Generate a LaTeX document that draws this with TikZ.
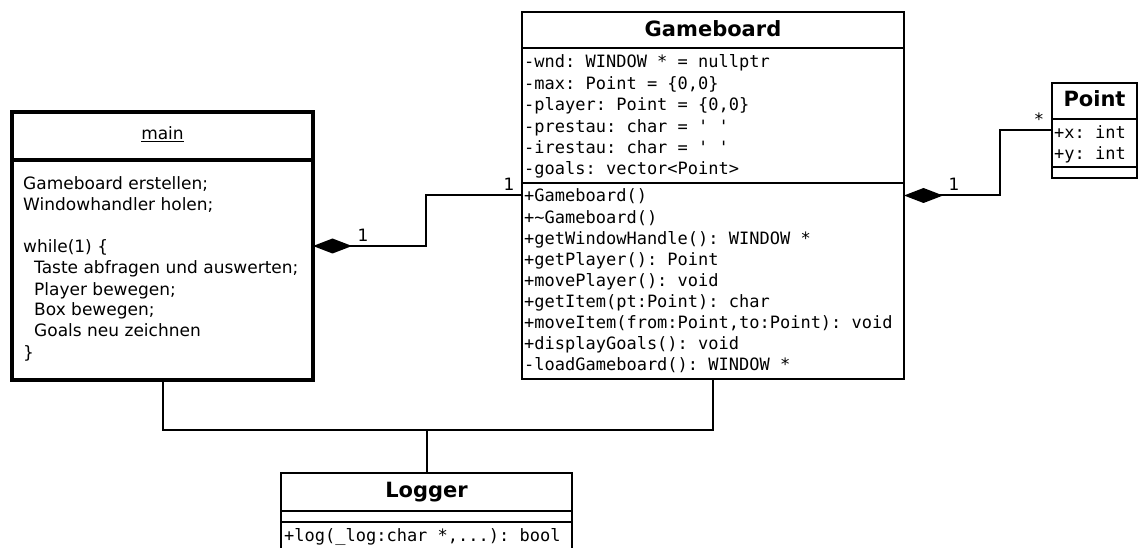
\documentclass[tikz,border=0pt]{standalone}
\usepackage{fontspec}
\setmainfont{DejaVu Sans}
\setmonofont{DejaVu Sans Mono}
\usetikzlibrary{arrows.meta}
\begin{document}
\begin{tikzpicture}[x=1pt,y=-1pt,
  box/.style={draw, rectangle, inner sep=0pt, outer sep=0pt},
  conn/.style={line width=2pt},
  comp/.style={conn, {Diamond[length=39pt,width=15pt]}-},
  txt/.style={inner sep=0pt, anchor=base west, font=\fontsize{17}{21}\selectfont},
  mono/.style={inner sep=0pt, anchor=base west, font=\fontsize{17}{21}\selectfont\ttfamily},
  ttl/.style={inner sep=0pt, anchor=base, font=\fontsize{21}{25}\selectfont\bfseries},
  mult/.style={inner sep=0pt, anchor=base, font=\fontsize{17}{21}\selectfont}]
\useasboundingbox (0,0) rectangle (1144,548);

% ---------- boxes ----------
\node[box, line width=4pt, minimum width=301pt, minimum height=268pt] (main) at (162.5,246) {};
\node[box, line width=2.2pt, minimum width=382pt, minimum height=367pt] (gb) at (713,195.5) {};
\node[box, line width=2.2pt, minimum width=85pt, minimum height=95pt] (pt) at (1094.5,130.5) {};
\node[box, line width=2pt, minimum width=291pt, minimum height=79pt] (lg) at (426.5,512.5) {};

% separators
\draw[line width=4pt] (main.west |- 0,160) -- (main.east |- 0,160);
\draw[line width=2.2pt] (gb.west |- 0,48) -- (gb.east |- 0,48);
\draw[line width=2.2pt] (gb.west |- 0,183) -- (gb.east |- 0,183);
\draw[line width=2.2pt] (pt.west |- 0,119) -- (pt.east |- 0,119);
\draw[line width=2.2pt] (pt.west |- 0,167) -- (pt.east |- 0,167);
\draw[line width=2pt] (lg.west |- 0,511) -- (lg.east |- 0,511);
\draw[line width=2pt] (lg.west |- 0,522) -- (lg.east |- 0,522);

% ---------- titles ----------
\node[mult] (mainT) at (162.5,140) {\underline{main}};
\node[ttl] (gbT) at (713,37) {Gameboard};
\node[ttl] (ptT) at (1094.5,107) {Point};
\node[ttl] (lgT) at (426.5,497) {Logger};

% ---------- main body ----------
\node[txt] (m1) at (23,190) {Gameboard erstellen;};
\node[txt] (m2) at (23,211) {Windowhandler holen;};
\node[txt] (m3) at (23,253) {while(1) \{};
\node[txt] (m4) at (34,274) {Taste abfragen und auswerten;};
\node[txt] (m5) at (34,295) {Player bewegen;};
\node[txt] (m6) at (34,316) {Box bewegen;};
\node[txt] (m7) at (34,337) {Goals neu zeichnen};
\node[txt] (m8) at (23,358) {\}};

% ---------- Gameboard attributes ----------
\foreach \t [count=\i] in {
  {-wnd: WINDOW * = nullptr},
  {-max: Point = \{0,0\}},
  {-player: Point = \{0,0\}},
  {-prestau: char = ' '},
  {-irestau: char = ' '},
  {-goals: vector<Point>}}
  \node[mono] (ga\i) at (524,{68+21.4*(\i-1)}) {\t};

% ---------- Gameboard methods ----------
\foreach \t [count=\i] in {
  {+Gameboard()},
  {+\textasciitilde Gameboard()},
  {+getWindowHandle(): WINDOW *},
  {+getPlayer(): Point},
  {+movePlayer(): void},
  {+getItem(pt:Point): char},
  {+moveItem(from:Point,to:Point): void},
  {+displayGoals(): void},
  {-loadGameboard(): WINDOW *}}
  \node[mono] (gm\i) at (524,{202+21.1*(\i-1)}) {\t};

% ---------- Point attributes ----------
\node[mono] (px) at (1054,139) {+x: int};
\node[mono] (py) at (1054,160) {+y: int};

% ---------- Logger method ----------
\node[mono] (lm) at (284,541) {+log(\_log:char *,...): bool};

% ---------- connectors ----------
\draw[comp] (main.east) -- ++(113,0) |- (gb.west);
\draw[comp] (gb.east) -- ++(96,0) |- (pt.west);
\draw[conn] (main.south) -- ++(0,50) coordinate (bus) -| (gb.south);
\draw[conn] (lg.north) -- (lg.north |- bus);

% multiplicities
\node[mult] (mul1) at (363,242) {1};
\node[mult] (mul2) at (509,191) {1};
\node[mult] (mul3) at (954,191) {1};
\node[mult, font=\fontsize{17}{21}\selectfont\ttfamily] (mul4) at (1039,126) {*};
\end{tikzpicture}
\end{document}
